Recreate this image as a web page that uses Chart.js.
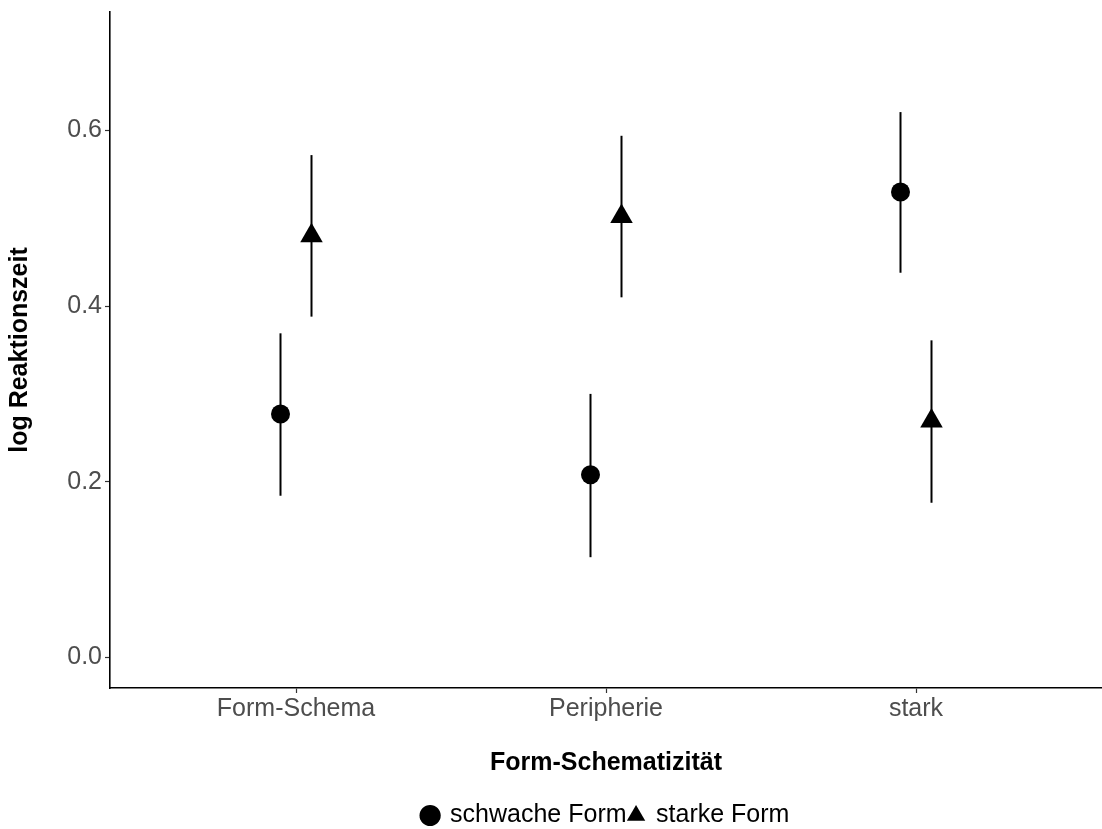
<!DOCTYPE html>
<html>
<head>
<meta charset="utf-8">
<script src="https://cdn.jsdelivr.net/npm/chart.js@4/dist/chart.umd.min.js"></script>
<style>
    html, body { margin: 0; padding: 0; background: #fff; }
    #wrap { width: 1102px; height: 829px; }
</style>
</head>
<body>
<div id="wrap"><canvas id="chartArea"></canvas></div>
<script>
// categories on the x axis
var categories = ['Form-Schema', 'Peripherie', 'stark'];
var seriesNames = ['schwache Form', 'starke Form'];

// schwache Form (circle)
var schwachMean = [0.277, 0.208, 0.530];
var schwachLow = [0.184, 0.114, 0.438];
var schwachHigh = [0.369, 0.300, 0.621];

// starke Form (triangle)
var starkMean = [0.480, 0.502, 0.269];
var starkLow = [0.388, 0.410, 0.176];
var starkHigh = [0.572, 0.594, 0.361];

var yTicks = [0, 0.2, 0.4, 0.6];

var DODGE = 0.05;
var FONT = "'Liberation Sans', Arial, sans-serif";

function buildPoints(mean, low, high, shift) {
    var pts = [];
    for (var i = 0; i < mean.length; i++) {
        pts.push({x: i + 1 + shift, y: mean[i], lo: low[i], hi: high[i]});
    }
    return pts;
}

// vertical error bars, drawn under the points
var errorBars = {
    id: 'errorBars',
    beforeDatasetsDraw: function (chart) {
        var ctx = chart.ctx;
        var yScale = chart.scales.y;
        ctx.save();
        ctx.strokeStyle = '#000';
        ctx.lineWidth = 2;
        chart.data.datasets.forEach(function (ds, di) {
            var meta = chart.getDatasetMeta(di);
            meta.data.forEach(function (el, i) {
                var p = ds.data[i];
                ctx.beginPath();
                ctx.moveTo(el.x, yScale.getPixelForValue(p.hi));
                ctx.lineTo(el.x, yScale.getPixelForValue(p.lo));
                ctx.stroke();
            });
        });
        ctx.restore();
    }
};

var ctx = document.getElementById('chartArea').getContext('2d');
var myChart = new Chart(ctx, {
    type: 'scatter',
    data: {
        datasets: [
            {
                label: seriesNames[0],
                data: buildPoints(schwachMean, schwachLow, schwachHigh, -DODGE),
                pointStyle: 'circle',
                pointRadius: 9.5,
                backgroundColor: '#000',
                borderColor: '#000',
                borderWidth: 0
            },
            {
                label: seriesNames[1],
                data: buildPoints(starkMean, starkLow, starkHigh, DODGE),
                pointStyle: 'triangle',
                pointRadius: 13,
                backgroundColor: '#000',
                borderColor: '#000',
                borderWidth: 0
            }
        ]
    },
    plugins: [errorBars],
    options: {
        responsive: true,
        maintainAspectRatio: false,
        animation: false,
        layout: {autoPadding: false, padding: {top: 12, right: 0, left: 0, bottom: -9}},
        plugins: {
            tooltip: {enabled: false},
            legend: {
                position: 'bottom',
                fullSize: false,
                labels: {
                    usePointStyle: true,
                    boxHeight: 15,
                    boxWidth: 15,
                    padding: 2,
                    color: '#000',
                    font: {family: FONT, size: 25}
                }
            }
        },
        scales: {
            x: {
                type: 'linear',
                min: 0.4,
                max: 3.6,
                afterBuildTicks: function (scale) {
                    scale.ticks = categories.map(function (c, i) { return {value: i + 1}; });
                },
                afterFit: function (scale) {
                    scale.height = 113;
                    scale.paddingLeft = 0;
                    scale.paddingRight = 0;
                },
                grid: {drawOnChartArea: false, drawTicks: true, tickLength: 5, tickColor: '#333', tickWidth: 1.2},
                border: {display: true, color: '#000', width: 1.6},
                ticks: {
                    autoSkip: false,
                    maxRotation: 0,
                    padding: 1,
                    color: '#4d4d4d',
                    font: {family: FONT, size: 25},
                    callback: function (v) { return categories[Math.round(v) - 1]; }
                },
                title: {
                    display: true,
                    text: 'Form-Schematizität',
                    color: '#000',
                    font: {family: FONT, size: 25, weight: 'bold'},
                    padding: {top: 0, bottom: 23}
                }
            },
            y: {
                min: -0.035,
                max: 0.735,
                afterBuildTicks: function (scale) {
                    scale.ticks = yTicks.map(function (v) { return {value: v}; });
                },
                afterFit: function (scale) {
                    scale.width = 110;
                    scale.paddingTop = 0;
                    scale.paddingBottom = 0;
                },
                grid: {drawOnChartArea: false, drawTicks: true, tickLength: 5, tickColor: '#333', tickWidth: 1.2},
                border: {display: true, color: '#000', width: 1.6},
                ticks: {
                    padding: 3,
                    color: '#4d4d4d',
                    font: {family: FONT, size: 25},
                    callback: function (v) { return v.toFixed(1); }
                },
                title: {
                    display: true,
                    text: 'log Reaktionszeit',
                    color: '#000',
                    font: {family: FONT, size: 25, weight: 'bold'},
                    padding: {top: 5, bottom: 0}
                }
            }
        }
    }
});
</script>
</body>
</html>
